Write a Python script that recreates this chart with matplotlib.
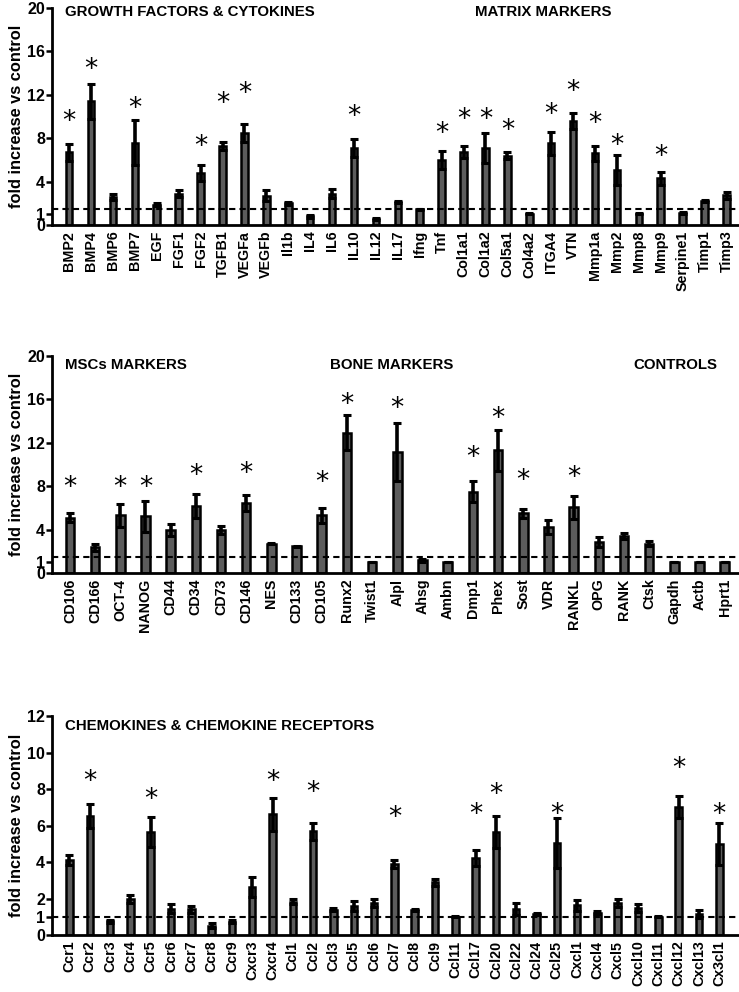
import matplotlib
matplotlib.use("Agg")
import matplotlib.pyplot as plt

plt.rcParams['font.family'] = ['Liberation Sans', 'DejaVu Sans']
plt.rcParams['font.weight'] = 'bold'

# ---- panel 1: growth factors / cytokines / matrix markers
genes1 = ["BMP2", "BMP4", "BMP6", "BMP7", "EGF", "FGF1", "FGF2", "TGFB1", "VEGFa",
          "VEGFb", "Il1b", "IL4", "IL6", "IL10", "IL12", "IL17", "Ifng", "Tnf",
          "Col1a1", "Col1a2", "Col5a1", "Col4a2", "ITGA4", "VTN", "Mmp1a", "Mmp2",
          "Mmp8", "Mmp9", "Serpine1", "Timp1", "Timp3"]
mean1 = [6.7, 11.4, 2.6, 7.6, 1.9, 2.9, 4.8, 7.3, 8.5,
         2.7, 2.0, 0.8, 2.9, 7.1, 0.6, 2.1, 1.45, 6.0,
         6.7, 7.1, 6.4, 1.07, 7.55, 9.6, 6.6, 5.1,
         1.07, 4.3, 1.13, 2.2, 2.75]
err1 = [0.8, 1.6, 0.3, 2.1, 0.1, 0.3, 0.7, 0.4, 0.85,
        0.5, 0.1, 0.1, 0.4, 0.8, 0.1, 0.1, 0.05, 0.8,
        0.55, 1.4, 0.3, 0.06, 1.05, 0.7, 0.7, 1.4,
        0.05, 0.6, 0.07, 0.1, 0.3]
star1 = {"BMP2": 9.5, "BMP4": 14.3, "BMP7": 10.7, "FGF2": 7.2, "TGFB1": 11.2,
         "VEGFa": 12.1, "IL10": 10.0, "Tnf": 8.4, "Col1a1": 9.7, "Col1a2": 9.7,
         "Col5a1": 8.7, "ITGA4": 10.1, "VTN": 12.3, "Mmp1a": 9.35, "Mmp2": 7.25,
         "Mmp9": 6.3}

# ---- panel 2: MSC / bone markers / controls
genes2 = ["CD106", "CD166", "OCT-4", "NANOG", "CD44", "CD34", "CD73", "CD146", "NES",
          "CD133", "CD105", "Runx2", "Twist1", "Alpl", "Ahsg", "Ambn", "Dmp1", "Phex",
          "Sost", "VDR", "RANKL", "OPG", "RANK", "Ctsk", "Gapdh", "Actb", "Hprt1"]
mean2 = [5.1, 2.37, 5.3, 5.2, 4.0, 6.2, 3.95, 6.45, 2.7,
         2.46, 5.3, 12.9, 1.0, 11.15, 1.17, 1.0, 7.5, 11.3,
         5.5, 4.25, 6.05, 2.86, 3.4, 2.7, 1.0, 1.0, 1.0]
err2 = [0.4, 0.33, 1.05, 1.45, 0.55, 1.1, 0.35, 0.75, 0.07,
        0.05, 0.7, 1.6, 0.02, 2.7, 0.13, 0.02, 1.0, 1.9,
        0.4, 0.65, 1.05, 0.45, 0.3, 0.25, 0.02, 0.02, 0.02]
star2 = {"CD106": 7.85, "OCT-4": 7.85, "NANOG": 7.85, "CD34": 8.9, "CD146": 9.1,
         "CD105": 8.3, "Runx2": 15.5, "Alpl": 15.1, "Dmp1": 10.6, "Phex": 14.15,
         "Sost": 8.5, "RANKL": 8.7}

# ---- panel 3: chemokines & receptors
genes3 = ["Ccr1", "Ccr2", "Ccr3", "Ccr4", "Ccr5", "Ccr6", "Ccr7", "Ccr8", "Ccr9",
          "Cxcr3", "Cxcr4", "Ccl1", "Ccl2", "Ccl3", "Ccl5", "Ccl6", "Ccl7", "Ccl8",
          "Ccl9", "Ccl11", "Ccl17", "Ccl20", "Ccl22", "Ccl24", "Ccl25", "Cxcl1",
          "Cxcl4", "Cxcl5", "Cxcl10", "Cxcl11", "Cxcl12", "Cxcl13", "Cx3cl1"]
mean3 = [4.13, 6.53, 0.75, 1.96, 5.65, 1.44, 1.4, 0.5, 0.73,
         2.63, 6.62, 1.83, 5.69, 1.38, 1.59, 1.76, 3.9, 1.35,
         2.9, 1.0, 4.22, 5.65, 1.44, 1.14, 5.06, 1.63,
         1.23, 1.78, 1.5, 1.0, 7.02, 1.16, 5.0]
err3 = [0.27, 0.67, 0.07, 0.23, 0.82, 0.24, 0.17, 0.13, 0.09,
        0.55, 0.91, 0.13, 0.47, 0.08, 0.26, 0.2, 0.23, 0.05,
        0.19, 0.02, 0.42, 0.88, 0.32, 0.06, 1.37, 0.31,
        0.06, 0.22, 0.22, 0.02, 0.6, 0.22, 1.16]
star3 = {"Ccr2": 8.4, "Ccr5": 7.4, "Cxcr4": 8.4, "Ccl2": 7.8, "Ccl7": 6.4,
         "Ccl17": 6.56, "Ccl20": 7.66, "Ccl25": 6.56, "Cxcl12": 9.1, "Cx3cl1": 6.6}

fig = plt.figure(figsize=(7.39, 9.92), dpi=100)


def panel(rect, genes, mean, err, stars, ymax, yticks, thresh, xlim, width, titles):
    ax = fig.add_axes(rect)
    x = list(range(len(genes)))
    ax.bar(x, mean, width=width, color="#5c5c5c", edgecolor="black", linewidth=1.8,
           zorder=2)
    ax.errorbar(x, mean, yerr=err, fmt="none", ecolor="black", elinewidth=2.6,
                capsize=2.8, capthick=2.2, zorder=3)
    for g, yv in stars.items():
        ax.text(genes.index(g), yv, "*", ha="center", va="center", fontsize=19,
                fontweight="normal", family="DejaVu Sans")
    ax.axhline(thresh, color="black", lw=1.5, ls=(0, (3, 2)), zorder=4)
    ax.set_xlim(*xlim)
    ax.set_ylim(0, ymax)
    ax.set_yticks(yticks)
    ax.set_yticklabels([str(t) for t in yticks], fontsize=11.5, fontweight="bold")
    ax.set_xticks(x)
    ax.set_xticklabels(genes, rotation=90, fontsize=10.3, fontweight="bold")
    ax.tick_params(axis="x", length=0, pad=4)
    ax.tick_params(axis="y", length=4, width=1.8, pad=1)
    for s in ("top", "right"):
        ax.spines[s].set_visible(False)
    for s in ("left", "bottom"):
        ax.spines[s].set_linewidth(2.0)
    ax.set_ylabel("fold increase vs control", fontsize=11.8, fontweight="bold",
                  labelpad=2)
    for tx, ty, label, ha in titles:
        ax.text(tx, ty, label, transform=ax.transAxes, ha=ha, va="center",
                fontsize=10.8, fontweight="bold")
    return ax


panel([0.0704, 0.773, 0.929, 0.219], genes1, mean1, err1, star1, 20,
      [0, 1, 4, 8, 12, 16, 20], 1.45, (-0.78, 30.55), 0.3,
      [(0.019, 0.982, "GROWTH FACTORS & CYTOKINES", "left"),
       (0.715, 0.982, "MATRIX MARKERS", "center")])

panel([0.0704, 0.4224, 0.929, 0.219], genes2, mean2, err2, star2, 20,
      [0, 1, 4, 8, 12, 16, 20], 1.45, (-0.71, 26.55), 0.34,
      [(0.019, 0.958, "MSCs MARKERS", "left"),
       (0.495, 0.958, "BONE MARKERS", "center"),
       (0.908, 0.958, "CONTROLS", "center")])

panel([0.0704, 0.0575, 0.929, 0.2205], genes3, mean3, err3, star3, 12,
      [0, 1, 2, 4, 6, 8, 10, 12], 1.0, (-0.86, 32.95), 0.32,
      [(0.019, 0.954, "CHEMOKINES & CHEMOKINE RECEPTORS", "left")])

fig.savefig("out.png", dpi=100)
